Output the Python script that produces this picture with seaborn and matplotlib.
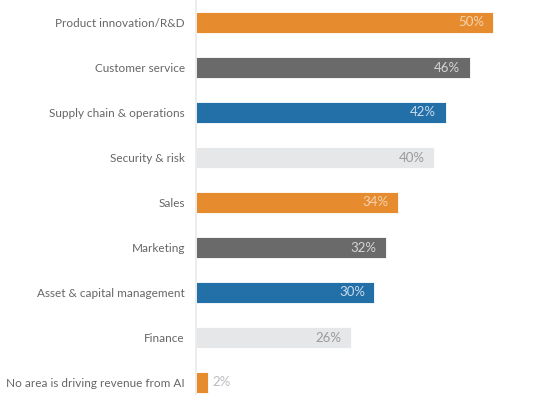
import pandas as pd
import matplotlib.pyplot as plt
import seaborn as sns

# Areas where AI drives revenue (share of respondents, %)
areas = ["Product innovation/R&D", "Customer service", "Supply chain & operations",
         "Security & risk", "Sales", "Marketing", "Asset & capital management",
         "Finance", "No area is driving revenue from AI"]
shares = [50, 46, 42, 40, 34, 32, 30, 26, 2]
bar_colors = ["#E68C2F", "#6A6A6A", "#236FA8", "#E6E7E9",
              "#E68C2F", "#6A6A6A", "#236FA8", "#E6E7E9", "#E68C2F"]
label_colors = ["#F6D3AE", "#D5D5D5", "#C9DCEC", "#9A9A9A",
                "#F6D3AE", "#D5D5D5", "#C9DCEC", "#9A9A9A", "#BDBDBD"]

df = pd.DataFrame({"area": areas, "share": shares})

sns.set_style("white")
plt.rcParams["font.family"] = ["Lato", "DejaVu Sans"]

fig = plt.figure(figsize=(5.57, 3.95), dpi=100)
ax = fig.add_axes([196 / 557, 0, 1 - 196 / 557, 1])

sns.barplot(data=df, x="share", y="area", hue="area", palette=bar_colors,
            dodge=False, legend=False, width=0.48, ax=ax, saturation=1,
            edgecolor="white", linewidth=0.6)

ax.set_xlim(0, 60.7)
ax.set_ylim((395 - 22.5) / 45, -0.5)

# value labels
for i, (v, c) in enumerate(zip(shares, label_colors)):
    if v > 5:
        ax.text(v - 1.6, i, f"{v}%", ha="right", va="center", fontsize=9.5, color=c)
    else:
        ax.text(v + 0.8, i, f"{v}%", ha="left", va="center", fontsize=9.5, color=c)

ax.set_xlabel("")
ax.set_ylabel("")
ax.set_xticks([])
ax.tick_params(axis="y", length=0, pad=8, labelsize=8.5, labelcolor="#666666")
for s in ["top", "right", "bottom"]:
    ax.spines[s].set_visible(False)
ax.spines["left"].set_color("#E9E9E9")
ax.spines["left"].set_linewidth(1.2)

fig.savefig("out.png", dpi=100)
